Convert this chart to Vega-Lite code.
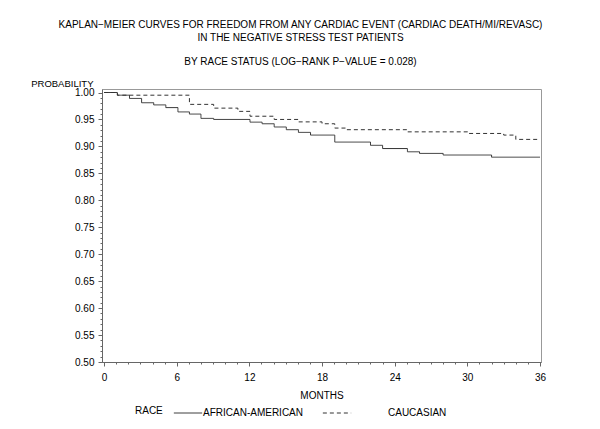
{
  "$schema": "https://vega.github.io/schema/vega-lite/v6.json",
  "width": 439,
  "height": 273,
  "autosize": "none",
  "padding": {"left": 102, "top": 89, "right": 59, "bottom": 67},
  "background": "white",
  "config": {
    "font": "Liberation Sans",
    "view": {"stroke": "#999", "strokeWidth": 1},
    "axis": {"labelFont": "Liberation Sans", "titleFont": "Liberation Sans", "labelColor": "black", "titleColor": "black", "labelFontSize": 10, "titleFontSize": 10, "titleFontWeight": "normal", "domainColor": "#666", "tickColor": "#666", "grid": false}
  },
  "title": {
    "text": ["KAPLAN−MEIER CURVES FOR FREEDOM FROM ANY CARDIAC EVENT (CARDIAC DEATH/MI/REVASC)", "IN THE NEGATIVE STRESS TEST PATIENTS"],
    "subtitle": "BY RACE STATUS (LOG−RANK P−VALUE  =  0.028)",
    "anchor": "middle",
    "frame": "group",
    "dx": -21,
    "offset": 11,
    "font": "Liberation Sans",
    "fontSize": 10,
    "fontWeight": "normal",
    "color": "black",
    "lineHeight": 13,
    "subtitleFont": "Liberation Sans",
    "subtitleFontSize": 10,
    "subtitleColor": "black",
    "subtitlePadding": 14
  },
  "data": {
    "values": [
      {"month": 0, "prob": 1.0, "race": "AFRICAN-AMERICAN"},
      {"month": 1.1, "prob": 0.995, "race": "AFRICAN-AMERICAN"},
      {"month": 2.1, "prob": 0.989, "race": "AFRICAN-AMERICAN"},
      {"month": 3.1, "prob": 0.981, "race": "AFRICAN-AMERICAN"},
      {"month": 4.1, "prob": 0.977, "race": "AFRICAN-AMERICAN"},
      {"month": 5.1, "prob": 0.972, "race": "AFRICAN-AMERICAN"},
      {"month": 6.1, "prob": 0.964, "race": "AFRICAN-AMERICAN"},
      {"month": 7.05, "prob": 0.96, "race": "AFRICAN-AMERICAN"},
      {"month": 8.0, "prob": 0.952, "race": "AFRICAN-AMERICAN"},
      {"month": 9.05, "prob": 0.95, "race": "AFRICAN-AMERICAN"},
      {"month": 12.05, "prob": 0.945, "race": "AFRICAN-AMERICAN"},
      {"month": 13.05, "prob": 0.942, "race": "AFRICAN-AMERICAN"},
      {"month": 14.05, "prob": 0.936, "race": "AFRICAN-AMERICAN"},
      {"month": 15.05, "prob": 0.931, "race": "AFRICAN-AMERICAN"},
      {"month": 16.05, "prob": 0.926, "race": "AFRICAN-AMERICAN"},
      {"month": 17.05, "prob": 0.921, "race": "AFRICAN-AMERICAN"},
      {"month": 19.05, "prob": 0.908, "race": "AFRICAN-AMERICAN"},
      {"month": 22.0, "prob": 0.902, "race": "AFRICAN-AMERICAN"},
      {"month": 23.0, "prob": 0.896, "race": "AFRICAN-AMERICAN"},
      {"month": 25.05, "prob": 0.89, "race": "AFRICAN-AMERICAN"},
      {"month": 26.05, "prob": 0.887, "race": "AFRICAN-AMERICAN"},
      {"month": 28.0, "prob": 0.884, "race": "AFRICAN-AMERICAN"},
      {"month": 32.0, "prob": 0.88, "race": "AFRICAN-AMERICAN"},
      {"month": 36.0, "prob": 0.88, "race": "AFRICAN-AMERICAN"},
      {"month": 0, "prob": 1.0, "race": "CAUCASIAN"},
      {"month": 1.1, "prob": 0.995, "race": "CAUCASIAN"},
      {"month": 7.05, "prob": 0.978, "race": "CAUCASIAN"},
      {"month": 9.05, "prob": 0.971, "race": "CAUCASIAN"},
      {"month": 11.05, "prob": 0.965, "race": "CAUCASIAN"},
      {"month": 12.05, "prob": 0.956, "race": "CAUCASIAN"},
      {"month": 14.05, "prob": 0.95, "race": "CAUCASIAN"},
      {"month": 16.05, "prob": 0.9455, "race": "CAUCASIAN"},
      {"month": 18.0, "prob": 0.942, "race": "CAUCASIAN"},
      {"month": 19.05, "prob": 0.934, "race": "CAUCASIAN"},
      {"month": 20.05, "prob": 0.931, "race": "CAUCASIAN"},
      {"month": 25.0, "prob": 0.927, "race": "CAUCASIAN"},
      {"month": 30.05, "prob": 0.924, "race": "CAUCASIAN"},
      {"month": 33.0, "prob": 0.921, "race": "CAUCASIAN"},
      {"month": 34.0, "prob": 0.913, "race": "CAUCASIAN"},
      {"month": 36.0, "prob": 0.913, "race": "CAUCASIAN"}
    ]
  },
  "mark": {"type": "line", "interpolate": "step-after", "color": "#333", "strokeWidth": 1},
  "encoding": {
    "x": {
      "field": "month", "type": "quantitative",
      "scale": {"domain": [-0.17, 36.08], "nice": false, "zero": false},
      "axis": {
        "title": "MONTHS",
        "values": [0,1,2,3,4,5,6,7,8,9,10,11,12,13,14,15,16,17,18,19,20,21,22,23,24,25,26,27,28,29,30,31,32,33,34,35,36],
        "labelExpr": "datum.value % 6 === 0 ? datum.label : ''",
        "tickSize": {"condition": {"test": "datum.value % 6 === 0", "value": 4}, "value": 2},
        "labelPadding": 6,
        "titlePadding": 8,
        "labelFlush": false,
        "labelOverlap": false
      }
    },
    "y": {
      "field": "prob", "type": "quantitative",
      "scale": {"domain": [0.5, 1.0065], "nice": false, "zero": false},
      "axis": {
        "title": "PROBABILITY",
        "titleAngle": 0,
        "titleAlign": "right",
        "titleBaseline": "middle",
        "titleFontSize": 9.5,
        "titleX": -9,
        "titleY": -6,
        "values": [0.5,0.51,0.52,0.53,0.54,0.55,0.56,0.57,0.58,0.59,0.6,0.61,0.62,0.63,0.64,0.65,0.66,0.67,0.68,0.69,0.7,0.71,0.72,0.73,0.74,0.75,0.76,0.77,0.78,0.79,0.8,0.81,0.82,0.83,0.84,0.85,0.86,0.87,0.88,0.89,0.9,0.91,0.92,0.93,0.94,0.95,0.96,0.97,0.98,0.99,1.0],
        "labelExpr": "round(datum.value * 100) % 5 === 0 ? format(datum.value, '.2f') : ''",
        "tickSize": {"condition": {"test": "round(datum.value * 100) % 5 === 0", "value": 4}, "value": 2},
        "labelPadding": 4,
        "labelFlush": false,
        "labelOverlap": false
      }
    },
    "strokeDash": {
      "field": "race", "type": "nominal",
      "scale": {"domain": ["AFRICAN-AMERICAN", "CAUCASIAN"], "range": [[1, 0], [4, 3]]},
      "legend": {
        "title": "RACE",
        "orient": "none",
        "legendX": 33,
        "legendY": 309,
        "direction": "horizontal",
        "titleOrient": "left",
        "titleAnchor": "middle",
        "titleBaseline": "middle",
        "titleFont": "Liberation Sans",
        "titleFontSize": 10,
        "titleFontWeight": "normal",
        "titleColor": "black",
        "titlePadding": 10,
        "labelFont": "Liberation Sans",
        "labelFontSize": 10,
        "labelColor": "black",
        "labelOffset": 0,
        "columnPadding": 16,
        "symbolType": "stroke",
        "symbolSize": 800,
        "symbolStrokeWidth": 1,
        "symbolStrokeColor": "#333",
        "encode": {
          "title": {"update": {"dy": {"value": 3}}},
          "labels": {"update": {"dx": {"signal": "datum.label === 'CAUCASIAN' ? 36 : 0"}}}
        }
      }
    }
  }
}
